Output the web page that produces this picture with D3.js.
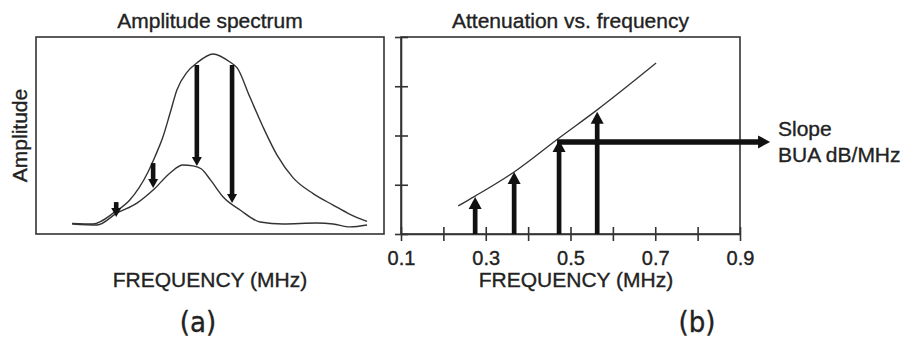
<!DOCTYPE html>
<html>
<head>
<meta charset="utf-8">
<script src="https://cdn.jsdelivr.net/npm/d3@7"></script>
<style>
  body { margin: 0; background: #fff; }
  text { font-family: "Liberation Sans", Arial, sans-serif; fill: #222; stroke: #222; stroke-width: 0.35px; }
</style>
</head>
<body>
<svg id="chart"></svg>
<script>
// (a) amplitude spectrum, [frequency MHz, relative amplitude]
let incidentSpectrum = [[0.185, 0.054], [0.234, 0.051], [0.286, 0.112], [0.321, 0.173], [0.364, 0.315],
    [0.380, 0.391], [0.399, 0.492], [0.416, 0.614], [0.432, 0.731], [0.456, 0.822], [0.479, 0.868],
    [0.517, 0.914], [0.557, 0.873], [0.574, 0.843], [0.604, 0.695], [0.635, 0.543], [0.668, 0.400],
    [0.706, 0.285], [0.753, 0.205], [0.800, 0.147], [0.840, 0.100], [0.880, 0.064]
]
let transmittedSpectrum = [[0.185, 0.051], [0.244, 0.046], [0.291, 0.107], [0.338, 0.157], [0.376, 0.223],
    [0.416, 0.310], [0.446, 0.350], [0.470, 0.346], [0.490, 0.330], [0.512, 0.272], [0.541, 0.188],
    [0.581, 0.122], [0.628, 0.061], [0.682, 0.051], [0.762, 0.056], [0.800, 0.051], [0.840, 0.036],
    [0.880, 0.046]
]
// arrows in (a): frequency, amplitude at start, amplitude at tip
let lossFreq = [0.289, 0.376, 0.479, 0.562]
let lossFrom = [0.162, 0.360, 0.858, 0.858]
let lossTo = [0.086, 0.234, 0.345, 0.157]

// (b) attenuation vs frequency
let attenFreq = [0.235, 0.275, 0.367, 0.473, 0.563, 0.702]
let attenValue = [0.57, 0.77, 1.26, 1.95, 2.52, 3.47]
let barFreq = [0.275, 0.367, 0.473, 0.563]
let barValue = [0.75, 1.26, 1.91, 2.48]
let slopeLevel = 1.87
let slopeEnd = [0.473, 0.971]

let xTicks = [0.1, 0.2, 0.3, 0.4, 0.5, 0.6, 0.7, 0.8, 0.9]
let yTicks = [0, 1, 2, 3, 4]

let width = 905, height = 339;
let ink = '#111', lineColor = '#333';

let svg = d3.select('#chart').attr('width', width).attr('height', height)

// ---------- panel (a)
let boxA = { left: 36, right: 384, top: 37, bottom: 234 }
let xA = d3.scaleLinear().domain([0.1, 0.92]).range([boxA.left, boxA.right])
let yA = d3.scaleLinear().domain([0, 1]).range([boxA.bottom, boxA.top])

let gA = svg.append('g')
gA.append('rect')
    .attr('x', boxA.left).attr('y', boxA.top)
    .attr('width', boxA.right - boxA.left).attr('height', boxA.bottom - boxA.top)
    .attr('fill', 'none').attr('stroke', lineColor).attr('stroke-width', 1.6)

let lineA = d3.line().x(d => xA(d[0])).y(d => yA(d[1])).curve(d3.curveMonotoneX)
gA.selectAll('.spec')
    .data([incidentSpectrum, transmittedSpectrum])
    .join('path')
    .attr('class', 'spec')
    .attr('d', lineA)
    .attr('fill', 'none').attr('stroke', lineColor).attr('stroke-width', 1.4)

function vArrow(g, x, y1, y2, shaft, headW, headL) {
    let dir = y2 > y1 ? 1 : -1
    g.append('line')
        .attr('x1', x).attr('x2', x)
        .attr('y1', y1).attr('y2', y2 - dir * headL * 0.7)
        .attr('stroke', ink).attr('stroke-width', shaft)
    g.append('path')
        .attr('d', `M${x - headW / 2},${y2 - dir * headL}L${x + headW / 2},${y2 - dir * headL}L${x},${y2}Z`)
        .attr('fill', ink)
}

lossFreq.forEach((f, i) => {
    vArrow(gA, xA(f), yA(lossFrom[i]), yA(lossTo[i]), 4.6, 10, 9)
})

gA.append('text')
    .attr('x', (boxA.left + boxA.right) / 2).attr('y', 28)
    .attr('text-anchor', 'middle').attr('font-size', 21)
    .text('Amplitude spectrum')
gA.append('text')
    .attr('transform', `translate(27,${(boxA.top + boxA.bottom) / 2}) rotate(-90)`)
    .attr('text-anchor', 'middle').attr('font-size', 21)
    .text('Amplitude')
gA.append('text')
    .attr('x', 210).attr('y', 287)
    .attr('text-anchor', 'middle').attr('font-size', 21)
    .text('FREQUENCY (MHz)')
gA.append('text')
    .attr('x', 198).attr('y', 332)
    .attr('text-anchor', 'middle').attr('font-size', 29)
    .style('font-family', '"Liberation Sans Narrow", "DejaVu Sans Condensed", sans-serif')
    .text('(a)')

// ---------- panel (b)
let boxB = { left: 401, right: 740, top: 37, bottom: 234 }
let xB = d3.scaleLinear().domain([0.1, 0.9]).range([boxB.left, boxB.right])
let yB = d3.scaleLinear().domain([0, 4]).range([boxB.bottom, boxB.top])

let gB = svg.append('g')
gB.append('rect')
    .attr('x', boxB.left).attr('y', boxB.top)
    .attr('width', boxB.right - boxB.left).attr('height', boxB.bottom - boxB.top)
    .attr('fill', 'none').attr('stroke', lineColor).attr('stroke-width', 1.6)

let yAxis = gB.append('g')
    .attr('transform', `translate(${boxB.left},0)`)
    .call(d3.axisLeft(yB).tickValues(yTicks).tickSize(6).tickSizeOuter(0).tickFormat(''))
yAxis.selectAll('line').attr('x1', 7)

let xAxis = gB.append('g')
    .attr('transform', `translate(0,${boxB.bottom})`)
    .call(d3.axisBottom(xB).tickValues(xTicks).tickSize(7).tickSizeOuter(0).tickPadding(10)
        .tickFormat(d => Math.round(d * 10) % 2 == 1 ? d3.format('.1f')(d) : ''))
xAxis.selectAll('line').attr('y1', -7)
xAxis.selectAll('text').attr('font-size', 20).style('font-family', '"Liberation Sans", Arial, sans-serif').attr('fill', '#222')

gB.selectAll('.domain, .tick line').attr('stroke', lineColor).attr('stroke-width', 1.6)

let attenPts = attenFreq.map((f, i) => [f, attenValue[i]])
gB.append('path')
    .datum(attenPts)
    .attr('d', d3.line().x(d => xB(d[0])).y(d => yB(d[1])).curve(d3.curveMonotoneX))
    .attr('fill', 'none').attr('stroke', lineColor).attr('stroke-width', 1.3)

// horizontal slope arrow
let hy = yB(slopeLevel)
let hx1 = xB(slopeEnd[0]) - 2, hx2 = xB(slopeEnd[1])
gB.append('line')
    .attr('x1', hx1).attr('x2', hx2 - 9)
    .attr('y1', hy).attr('y2', hy)
    .attr('stroke', ink).attr('stroke-width', 5.5)
gB.append('path')
    .attr('d', `M${hx2 - 12},${hy - 6.5}L${hx2 - 12},${hy + 6.5}L${hx2},${hy}Z`)
    .attr('fill', ink)

barFreq.forEach((f, i) => {
    vArrow(gB, xB(f), yB(0), yB(barValue[i]), 4.7, 13, 12)
})

gB.append('text')
    .attr('x', (boxB.left + boxB.right) / 2).attr('y', 28)
    .attr('text-anchor', 'middle').attr('font-size', 21)
    .text('Attenuation vs. frequency')
gB.append('text')
    .attr('x', 576).attr('y', 287)
    .attr('text-anchor', 'middle').attr('font-size', 21)
    .text('FREQUENCY (MHz)')
gB.append('text')
    .attr('x', 778).attr('y', 136)
    .attr('font-size', 21)
    .text('Slope')
gB.append('text')
    .attr('x', 778).attr('y', 162)
    .attr('font-size', 21)
    .text('BUA dB/MHz')
gB.append('text')
    .attr('x', 697).attr('y', 332)
    .attr('text-anchor', 'middle').attr('font-size', 29)
    .style('font-family', '"Liberation Sans Narrow", "DejaVu Sans Condensed", sans-serif')
    .text('(b)')
</script>
</body>
</html>
